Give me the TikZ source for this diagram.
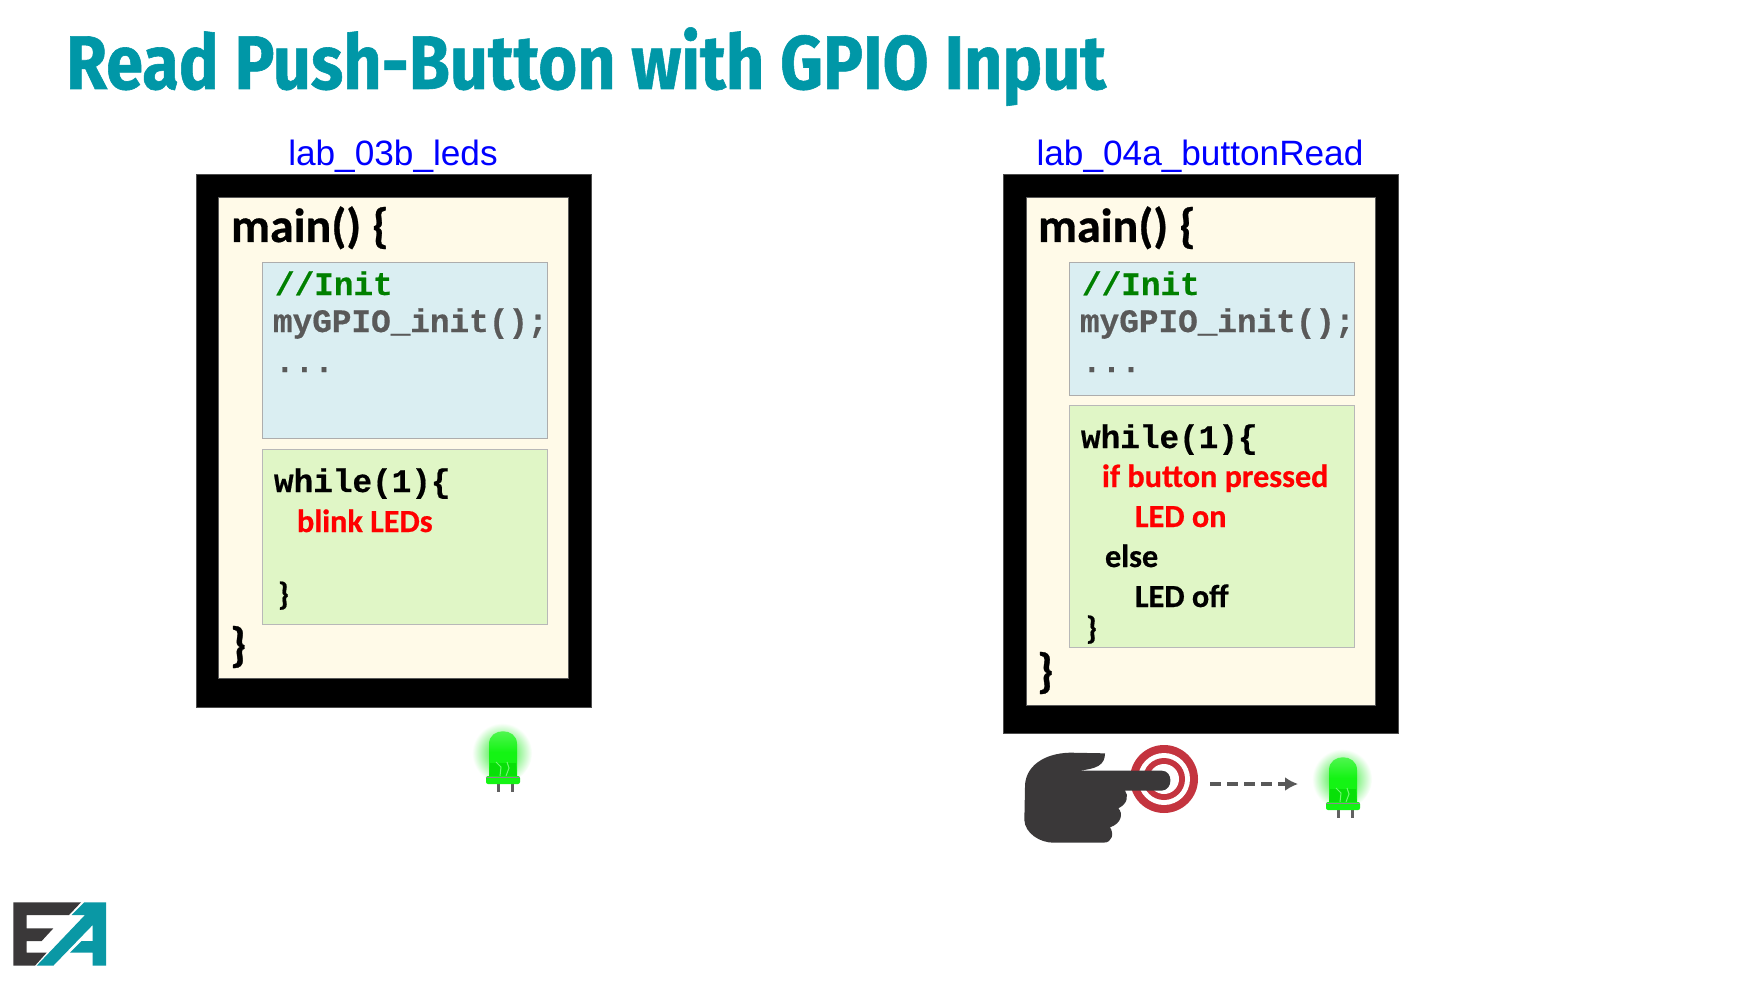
\documentclass[tikz,border=0pt]{standalone}
\usepackage{fontspec}
\setmainfont{Carlito}[BoldFeatures={FakeBold=0.6}]
\newfontfamily\arialf{Liberation Sans}
\newfontfamily\monof{Liberation Mono}[BoldFeatures={FakeBold=0.5}]
\newfontfamily\titlef{Fira Sans}[BoldFeatures={FakeBold=0.8}]
\usetikzlibrary{arrows.meta}
\definecolor{teal1}{HTML}{0097A7}
\definecolor{logoteal}{HTML}{0A98A5}
\definecolor{darkg}{HTML}{3A3839}
\definecolor{creamc}{HTML}{FFFAE8}
\definecolor{bluec}{HTML}{DAEEF2}
\definecolor{greenc}{HTML}{E0F6C6}
\definecolor{redb}{HTML}{C4343F}
\definecolor{codegray}{HTML}{595959}
\definecolor{codegreen}{HTML}{008000}
\definecolor{ledlight}{HTML}{14F414}
\definecolor{leddark}{HTML}{08E008}
\definecolor{glowc}{HTML}{12E812}
\tikzset{
  txt/.style={anchor=base west,inner sep=0pt,outer sep=0pt},
  outerbox/.style={draw=black!70,line width=0.4pt,fill=black},
  innerbox/.style={draw=black!65,line width=0.5pt,fill=creamc},
  initbox/.style={draw=black!32,line width=0.45pt,fill=bluec},
  loopbox/.style={draw=black!28,line width=0.45pt,fill=greenc},
  labl/.style={txt,anchor=base,font=\arialf\fontsize{17.6}{20}\selectfont,text=blue},
  mainl/.style={txt,font=\bfseries\fontsize{24}{28}\selectfont},
  monob/.style={txt,font=\monof\bfseries\fontsize{16.35}{20}\selectfont},
  calb/.style={txt,font=\bfseries\fontsize{16.1}{19}\selectfont},
  ledpic/.pic={
    \shade[inner color=glowc,outer color=white,draw=none] (-1,17) circle[radius=30];
    \path[top color=ledlight!70!white,bottom color=ledlight,middle color=ledlight,draw=none] (-14,41) -- (-14,8) .. controls (-14,-9) and (14,-9) .. (14,8) -- (14,41) -- cycle;
    \fill[leddark] (-13,27) -- (13,27) -- (14,41) -- (-14,41) -- cycle;
    \draw[ledlight!60!white,line width=0.5pt] (-7,26) -- (-2,31) -- (-3,40);
    \draw[ledlight!60!white,line width=0.5pt] (4,26) -- (6,32) -- (3,40);
    \fill[black!62] (-6,46) rectangle (-3,56);
    \fill[black!62] (8,46) rectangle (11,56);
    \fill[ledlight,rounded corners=1pt] (-17,40) rectangle (17,48);
    \draw[black!45,line width=0.3pt] (-17,41) -- (17,41);
  }
}
\begin{document}
\begin{tikzpicture}[x=0.5pt,y=-0.5pt]
\useasboundingbox (0,0) rectangle (1749,984);
\fill[white] (0,0) rectangle (1749,984);
% title
\node[txt,font=\titlef\bfseries\fontsize{38}{44}\selectfont,text=teal1,xscale=0.877] (title) at (66,89) {Read Push-Button with GPIO Input};
% left
\node[labl] (lab1) at (393,166) {lab\_03b\_leds};
\path[outerbox] (196,174) rectangle (591,707);
\path[innerbox] (218,198) rectangle (568,678);
\path[initbox] (262,262) rectangle (547,438);
\path[loopbox] (262,449) rectangle (547,624);
\node[mainl] (m1) at (231,242) {main() \{};
\node[monob,text=codegreen] (i1) at (275,295) {//Init};
\node[monob,text=codegray] (g1) at (273,332) {myGPIO\_init();};
\node[monob,text=codegray] (d1) at (275,372) {...};
\node[monob] (w1) at (274,492) {while(1)\{};
\node[calb,text=red] (b1) at (297,532) {blink LEDs};
\node[calb] (c1) at (278,605) {\}};
\node[mainl] (e1) at (230,661) {\}};
\pic at (503,736) {ledpic};
% right
\node[labl] (lab2) at (1200,166) {lab\_04a\_buttonRead};
\path[outerbox] (1003,174) rectangle (1398,733);
\path[innerbox] (1026,198) rectangle (1375,705);
\path[initbox] (1069,262) rectangle (1354,395);
\path[loopbox] (1069,405) rectangle (1354,647);
\node[mainl] (m2) at (1038,242) {main() \{};
\node[monob,text=codegreen] (i2) at (1082,295) {//Init};
\node[monob,text=codegray] (g2) at (1080,332) {myGPIO\_init();};
\node[monob,text=codegray] (d2) at (1082,372) {...};
\node[monob] (w2) at (1081,448) {while(1)\{};
\node[calb,text=red] (t1) at (1102,487) {if button pressed};
\node[calb,text=red] (t2) at (1135,527) {LED on};
\node[calb] (t3) at (1105,567) {else};
\node[calb] (t4) at (1135,607) {LED off};
\node[calb] (c2) at (1086,639) {\}};
\node[mainl] (e2) at (1037,687) {\}};
% button
\fill[redb] (1164,779) circle[radius=34];
\fill[white] (1164,779) circle[radius=26];
\fill[redb] (1164,779) circle[radius=21];
\fill[white] (1164,779) circle[radius=15];
% hand
\begin{scope}[shift={(990,720)},x=0.16667pt,y=-0.16667pt]
\fill[darkg] (345,100) -- (240,98) .. controls (160,100) and (105,140) .. (105,200)
  -- (103,300) .. controls (105,340) and (150,368) .. (190,368)
  -- (340,368) .. controls (368,368) and (372,340) .. (360,322)
  .. controls (395,310) and (400,280) .. (385,265)
  .. controls (415,250) and (415,225) .. (405,212)
  -- (515,212) .. controls (550,210) and (550,152) .. (515,152)
  -- (260,152) .. controls (320,148) and (345,135) .. (345,100) -- cycle;
\end{scope}
\coordinate (ars) at (1210,784);
\coordinate (are) at (1298,784);
\draw[codegray,line width=1.6pt,dash pattern=on 5.5pt off 3pt,-{Latex[length=6.5pt,width=7pt]}] (ars) -- (are);
\pic at (1343,762) {ledpic};
% logo
\begin{scope}[shift={(0,880)},x=0.16667pt,y=-0.16667pt]
\fill[darkg] (40,67) -- (243,67) -- (207,105) -- (80,105) -- (80,145) -- (160,145) -- (125,183) -- (80,183) -- (80,218) -- (140,218) -- (105,257) -- (40,257) -- cycle;
\fill[logoteal] (253,67) -- (318,67) -- (318,257) -- (278,257) -- (278,218) -- (210,218) -- (245,183) -- (278,183) -- (278,135) -- (160,257) -- (110,257) -- (255,105) -- (215,105) -- cycle;
\end{scope}
\end{tikzpicture}
\end{document}
